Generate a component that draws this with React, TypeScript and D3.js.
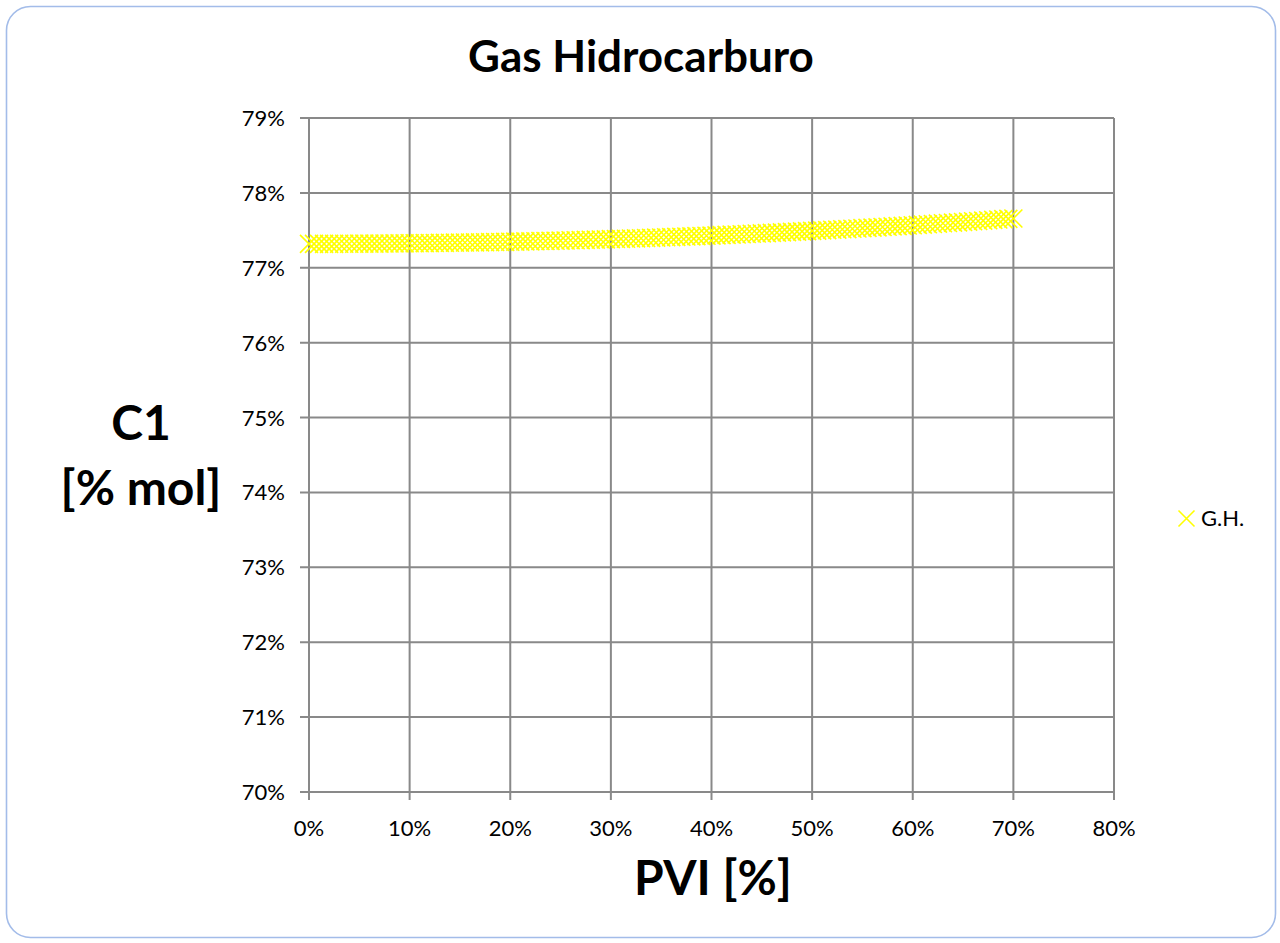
import React from "react";
import * as d3 from "d3";

// PVI injected (%) and methane fraction C1 (% mol) of the hydrocarbon gas case
const pviPct: number[] = [
  0, 0.5, 1, 1.5, 2, 2.5, 3, 3.5, 4, 4.5, 5, 5.5, 6, 6.5, 7, 7.5, 8, 8.5, 9, 9.5,
  10, 10.5, 11, 11.5, 12, 12.5, 13, 13.5, 14, 14.5, 15, 15.5, 16, 16.5, 17, 17.5, 18, 18.5, 19, 19.5,
  20, 20.5, 21, 21.5, 22, 22.5, 23, 23.5, 24, 24.5, 25, 25.5, 26, 26.5, 27, 27.5, 28, 28.5, 29, 29.5,
  30, 30.5, 31, 31.5, 32, 32.5, 33, 33.5, 34, 34.5, 35, 35.5, 36, 36.5, 37, 37.5, 38, 38.5, 39, 39.5,
  40, 40.5, 41, 41.5, 42, 42.5, 43, 43.5, 44, 44.5, 45, 45.5, 46, 46.5, 47, 47.5, 48, 48.5, 49, 49.5,
  50, 50.5, 51, 51.5, 52, 52.5, 53, 53.5, 54, 54.5, 55, 55.5, 56, 56.5, 57, 57.5, 58, 58.5, 59, 59.5,
  60, 60.5, 61, 61.5, 62, 62.5, 63, 63.5, 64, 64.5, 65, 65.5, 66, 66.5, 67, 67.5, 68, 68.5, 69, 69.5,
  70,
];

const c1Pct: number[] = [
  77.32, 77.32, 77.32, 77.32, 77.32, 77.32, 77.321, 77.321, 77.321, 77.321,
  77.322, 77.322, 77.322, 77.323, 77.323, 77.324, 77.324, 77.325, 77.326, 77.326,
  77.327, 77.328, 77.328, 77.329, 77.33, 77.331, 77.332, 77.333, 77.334, 77.335,
  77.336, 77.337, 77.338, 77.339, 77.34, 77.341, 77.342, 77.344, 77.345, 77.346,
  77.348, 77.349, 77.35, 77.352, 77.353, 77.355, 77.357, 77.358, 77.36, 77.361,
  77.363, 77.365, 77.367, 77.368, 77.37, 77.372, 77.374, 77.376, 77.378, 77.38,
  77.382, 77.384, 77.386, 77.388, 77.391, 77.393, 77.395, 77.397, 77.4, 77.402,
  77.405, 77.407, 77.409, 77.412, 77.414, 77.417, 77.42, 77.422, 77.425, 77.428,
  77.43, 77.433, 77.436, 77.439, 77.442, 77.445, 77.448, 77.451, 77.454, 77.457,
  77.46, 77.463, 77.466, 77.469, 77.472, 77.476, 77.479, 77.482, 77.486, 77.489,
  77.493, 77.496, 77.499, 77.503, 77.507, 77.51, 77.514, 77.517, 77.521, 77.525,
  77.529, 77.533, 77.536, 77.54, 77.544, 77.548, 77.552, 77.556, 77.56, 77.564,
  77.568, 77.573, 77.577, 77.581, 77.585, 77.59, 77.594, 77.598, 77.603, 77.607,
  77.612, 77.616, 77.621, 77.625, 77.63, 77.634, 77.639, 77.644, 77.649, 77.653,
  77.658,
];

const xTicks: number[] = [0, 10, 20, 30, 40, 50, 60, 70, 80];
const yTicks: number[] = [70, 71, 72, 73, 74, 75, 76, 77, 78, 79];

const chartTitle = "Gas Hidrocarburo";
const xTitle = "PVI [%]";
const yTitleLines = ["C1", "[% mol]"];
const seriesName = "G.H.";

const W = 1280;
const H = 943;
const plot = { left: 309, right: 1114, top: 118, bottom: 792 };
const FONT = "Lato, 'Open Sans', sans-serif";
const GRID = "#898989";
const YELLOW = "#ffff00";

function Cross({ cx, cy, r }: { cx: number; cy: number; r: number }) {
  return (
    <path
      d={`M${cx - r},${cy - r}L${cx + r},${cy + r}M${cx - r},${cy + r}L${cx + r},${cy - r}`}
      stroke={YELLOW}
      strokeWidth={1.6}
      fill="none"
    />
  );
}

export default function App() {
  const x = d3.scaleLinear().domain([0, 80]).range([plot.left, plot.right]);
  const y = d3.scaleLinear().domain([70, 79]).range([plot.bottom, plot.top]);
  const pts = pviPct.map((p, i) => [x(p), y(c1Pct[i])] as [number, number]);

  return (
    <svg
      width={W}
      height={H}
      style={{ position: "absolute", left: 0, top: 0 }}
      fontFamily={FONT}
    >
      <rect x={0} y={0} width={W} height={H} fill="#ffffff" />
      <rect
        x={6.5}
        y={6.5}
        width={1269}
        height={931}
        rx={24}
        ry={24}
        fill="#ffffff"
        stroke="#a3bce9"
        strokeWidth={1.6}
      />

      {/* horizontal gridlines with outer tick stubs */}
      {yTicks.map((t) => (
        <line
          key={`hy${t}`}
          x1={plot.left - 9}
          x2={plot.right}
          y1={y(t)}
          y2={y(t)}
          stroke={GRID}
          strokeWidth={2}
        />
      ))}
      {/* vertical gridlines with outer tick stubs */}
      {xTicks.map((t) => (
        <line
          key={`vx${t}`}
          x1={x(t)}
          x2={x(t)}
          y1={plot.top}
          y2={plot.bottom + 8}
          stroke={GRID}
          strokeWidth={2}
        />
      ))}

      {/* y tick labels */}
      {yTicks.map((t) => (
        <text
          key={`ly${t}`}
          x={plot.left - 24}
          y={y(t) + 8}
          textAnchor="end"
          fontSize={22}
          fill="#000"
        >
          {`${t}%`}
        </text>
      ))}
      {/* x tick labels */}
      {xTicks.map((t) => (
        <text
          key={`lx${t}`}
          x={x(t)}
          y={plot.bottom + 44}
          textAnchor="middle"
          fontSize={22}
          fill="#000"
        >
          {`${t}%`}
        </text>
      ))}

      {/* series markers */}
      {pts.map(([px, py], i) => (
        <Cross key={i} cx={px} cy={py} r={9} />
      ))}

      {/* titles */}
      <text x={641} y={72} textAnchor="middle" fontSize={44} fontWeight="bold" fill="#000">
        {chartTitle}
      </text>
      <text x={713} y={895} textAnchor="middle" fontSize={48} fontWeight="bold" fill="#000">
        {xTitle}
      </text>
      {yTitleLines.map((s, i) => (
        <text
          key={s}
          x={141}
          y={440 + i * 65}
          textAnchor="middle"
          fontSize={48}
          fontWeight="bold"
          fill="#000"
        >
          {s}
        </text>
      ))}

      {/* legend */}
      <Cross cx={1186.5} cy={518.5} r={8} />
      <text x={1201} y={526} fontSize={22} fill="#000">
        {seriesName}
      </text>
    </svg>
  );
}
